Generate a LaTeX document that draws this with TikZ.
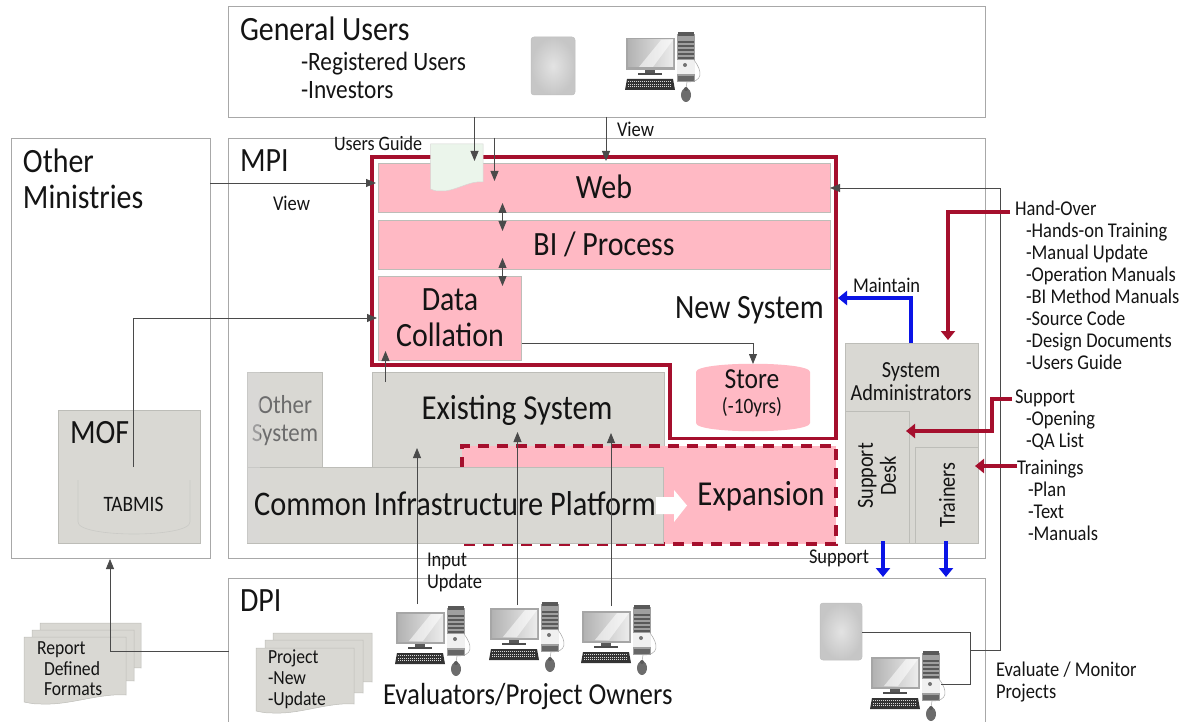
\documentclass[tikz,border=0pt]{standalone}
\usepackage{fontspec}
\setmainfont[FakeStretch=0.88]{Carlito}
\usetikzlibrary{arrows.meta,calc}
\definecolor{pinkf}{HTML}{FFB9C4}
\definecolor{grayf}{HTML}{D9D8D3}
\definecolor{grayb}{HTML}{BDBDB8}
\definecolor{frame}{HTML}{A8A8A8}
\definecolor{conn}{HTML}{4A4A4A}
\definecolor{dred}{HTML}{A50F2D}
\definecolor{bblue}{HTML}{0A14E6}
\definecolor{ink}{HTML}{141414}
\newcommand{\fsl}[2]{\fontsize{#1}{#2}\selectfont}
\newcommand{\bx}[6]{\node[#1,anchor=north west,minimum width=(#5-#3)*1pt,minimum height=(#6-#4)*1pt] (#2) at (#3,#4) {};}
\newcommand{\docpath}[4]{(#1,#2) -- (#3,#2) -- (#3,#4-8) .. controls ({#3-(#3-#1)*0.25},#4-10) and ({#3-(#3-#1)*0.55},#4+2) .. ({#1+(#3-#1)*0.2},#4+1) .. controls ({#1+(#3-#1)*0.1},#4+1) .. (#1,#4-1) -- cycle}
\tikzset{
  x=1pt,y=-1pt,
  every node/.style={inner sep=0pt,outer sep=0pt,text=ink},
  framebox/.style={draw=frame,line width=0.8pt,fill=white},
  sysbox/.style={draw=grayb,line width=0.6pt,fill=grayf},
  pinkbox/.style={draw=grayb,line width=0.6pt,fill=pinkf},
  lbl/.style={anchor=west},
  ctr/.style={anchor=center,align=center},
  list/.style={anchor=north west,align=left},
  big/.style={font=\fsl{34}{36}},
  mid/.style={font=\fsl{21}{22}},
  thinline/.style={draw=conn,line width=0.8pt},
  tri/.style={thinline,-{Triangle[length=10pt,width=8pt]}},
  dbl/.style={thinline,{Triangle[length=10pt,width=8pt]}-{Triangle[length=10pt,width=8pt]}},
  redbar/.style={draw=dred,line width=3.6pt},
  redarrow/.style={draw=dred,line width=3.2pt,-{Triangle[length=9pt,width=14pt]}},
  bluearrow/.style={draw=bblue,line width=3.2pt,-{Triangle[length=9pt,width=14pt]}},
  docf/.style={draw=grayb,line width=0.5pt,fill=grayf},
  tablet/.style={rounded corners=3pt,draw=black!25,line width=0.5pt,inner color=gray!22,outer color=gray!45,anchor=north west},
  pc/.pic={
    \fill[gray!70] (1,6) rectangle (50,38);
    \shade[left color=gray!60,right color=gray!15] (3,8) rectangle (48,35);
    \fill[white,opacity=.55] (14,35) -- (36,8) -- (48,8) -- (28,35) -- cycle;
    \fill[black!65] (20,38) rectangle (30,41);
    \fill[black!70] (13,41) rectangle (37,43);
    \fill[black!80] (2,47) -- (48,47) -- (50,58) -- (0,58) -- cycle;
    \foreach \k in {49.5,52,54.5} \draw[white!70!gray,line width=.7pt,dash pattern=on 1pt off 1pt] (3,\k) -- (47,\k);
    \fill[gray!75] (52,2) rectangle (70,50);
    \fill[black!65] (53,0) rectangle (69,4);
    \foreach \k in {9,13,17,21,25} \fill[black!65] (53,\k) rectangle (69,\k+2);
    \fill[white!88!gray] (52,28) rectangle (70,42);
    \fill[black!55] (60,33) circle (2pt);
    \fill[black!60] (53,44) rectangle (69,49);
    \draw[gray!70,line width=.5pt] (69,28) .. controls (78,40) and (78,50) .. (62,50) -- (61,56);
    \fill[gray!85!black] (61,63) ellipse (5pt and 7pt);
    \fill[black!65] (61,57) ellipse (2pt and 2pt);
  }
}
\begin{document}
\begin{tikzpicture}
\useasboundingbox (0,0) rectangle (1189,722);
% outer frames
\bx{framebox}{gu}{228.5}{6}{985}{117}
\bx{framebox}{mpi}{228.5}{138}{985}{558.5}
\bx{framebox}{om}{11.5}{138}{210}{558.5}
\draw[frame,line width=0.8pt] (228.5,722) -- (228.5,578) -- (985,578) -- (985,722);
\coordinate (dpiw) at (228.5,651);
% frame titles
\node[lbl,big] (tgu) at (240,29) {General Users};
\node[list,font=\fsl{26.5}{28}] (tgul) at (301,52) {-Registered Users\\-Investors};
\node[lbl,big] (tmpi) at (240,161) {MPI};
\node[list,big] (tom) at (23,149) {Other\\Ministries};
\node[lbl,big] (tdpi) at (240,601) {DPI};
% devices
\node[tablet,minimum width=44pt,minimum height=58pt] (tab1) at (531,37) {};
\pic at (625,32) {pc};
% other ministries content
\bx{sysbox}{mof}{58}{410}{200.5}{543}
\node[lbl,big] (tmof) at (70,433) {MOF};
\draw[grayb!80!white,line width=.6pt] (78,480) -- (78,522) .. controls (78,538) and (190,538) .. (190,522) -- (190,480);
\node[ctr,font=\fsl{22}{22}] (tabmis) at (133.5,504) {TABMIS};
\coordinate (tabtop) at (133.5,467);
% existing systems
\bx{sysbox}{other}{247}{372}{322.6}{468}
\bx{sysbox}{exist}{372}{372}{664}{468}
\node[ctr,text=gray!85!black,font=\fsl{26}{28}] (tother) at (285,421) {Other\\System};
% expansion
\node[draw=none,fill=pinkf,anchor=north west,minimum width=374pt,minimum height=98pt] (exp) at (462,446) {};
\draw[draw=dred,line width=3.2pt,dash pattern=on 11pt off 8pt] (exp.south west) -- (exp.north west) -- (exp.north east) -- (exp.south east) -- cycle;
\bx{sysbox}{common}{247}{467}{663}{543}
\fill[white!85!blue!15!grayf,opacity=.45] (247,372) rectangle (260,543);
\node[anchor=center,font=\fsl{34.5}{36}] (tcommon) at (455,504) {Common Infrastructure Platform};
\node[ctr,font=\fsl{35}{36}] (texpand) at (761,496) {Expansion};
\fill[white] (656,497) -- (674,497) -- (674,490) -- (687,505.5) -- (674,522) -- (674,514) -- (656,514) -- cycle;
\node[ctr,font=\fsl{35}{36}] (texist) at (517,410) {Existing System};
% new system outline
\draw[redbar,line join=miter] (372,157) -- (836,157) -- (836,438.5) -- (670,438.5) -- (670,365) -- (372,365) -- cycle;
\bx{pinkbox}{web}{378}{163}{830}{212}
\bx{pinkbox}{bi}{378}{220}{830}{269}
\bx{pinkbox}{dc}{378}{276}{521.5}{360}
\node[ctr,big] (tweb) at (604,187) {Web};
\node[ctr,big] (tbi) at (604,244) {BI / Process};
\node[ctr,big] (tdc) at (450,318) {Data\\Collation};
\node[lbl,big] (tnew) at (675,310) {New System};
% store
\path[fill=pinkf] (696,372) .. controls (696,361) and (810,361) .. (810,372) -- (810,423) .. controls (810,434) and (696,434) .. (696,423) -- cycle;
\coordinate (storetop) at (753,364);
\node[ctr,font=\fsl{29}{30}] (tstore) at (752,379) {Store};
\node[ctr,font=\fsl{22}{22}] (tyrs) at (752,407) {(-10yrs)};
% users guide document
\path[draw=grayb!60!white,line width=.5pt,fill=green!4!white!92!gray] \docpath{430.5}{144}{483}{190};
\node[lbl,font=\fsl{20.5}{22}] (tug) at (334,143) {Users Guide};
% admin boxes
\bx{sysbox}{admin}{845.5}{343}{978}{543}
\bx{sysbox}{desk}{845.5}{411}{909}{543}
\bx{sysbox}{train}{915}{447}{978}{543}
\node[ctr,font=\fsl{23}{23}] (tadmin) at (911,382) {System\\Administrators};
\node[ctr,rotate=90,font=\fsl{23}{23}] (tdesk) at (877,476) {Support\\Desk};
\node[ctr,rotate=90,font=\fsl{23}{23}] (ttrain) at (947,495) {Trainers};
% document stacks
\path[docf] \docpath{40}{623}{141}{676};
\path[docf] \docpath{32}{630}{134}{689};
\path[docf] \docpath{24}{637}{126}{703};
\node[list,font=\fsl{20}{20.5}] (trep) at (37,642) {Report\\\hspace*{7pt}Defined\\\hspace*{7pt}Formats};
\path[docf] \docpath{273}{633}{372}{690};
\path[docf] \docpath{265}{640}{363}{701};
\path[docf] \docpath{256}{648}{354}{712};
\node[list,font=\fsl{20}{21}] (tproj) at (268,650) {Project\\-New\\-Update};
% DPI computers
\pic at (395,606) {pc};
\pic at (489,602) {pc};
\pic at (581,605) {pc};
\pic at (870,651) {pc};
\node[tablet,minimum width=42pt,minimum height=57pt] (tab2) at (820,603) {};
\node[lbl,font=\fsl{30.5}{32}] (teval) at (383,697) {Evaluators/Project Owners};
% connector coordinates
\coordinate (a1) at (474.5,161);
\coordinate (a2) at (494.5,181);
\coordinate (a3) at (606,161);
\coordinate (eva) at (1000,188);
\coordinate (evb) at (1000,650.5);
\coordinate (evc) at (970,650.5);
\coordinate (evd) at (970,632);
\coordinate (eve) at (970,684);
\coordinate (evf) at (941,684);
% connectors
\draw[tri] (gu.south -| a1) -- (a1);
\draw[tri] (mpi.north -| a2) -- (a2);
\draw[tri] (gu.south -| a3) -- (a3);
\coordinate (w1) at (376,183);
\draw[tri] (om.east |- w1) -- (w1);
\draw[dbl] (502.5,203) coordinate (d1) -- (502.5,231) coordinate (d2);
\draw[dbl] (502.5,258) coordinate (d3) -- (502.5,286) coordinate (d4);
\coordinate (dcw) at (377,318);
\draw[tri] (tabtop) -- (tabtop |- dcw) -- (dcw);
\coordinate (up) at (385.5,351);
\draw[tri] (385.5,382) -- (up);
\coordinate (dce) at (521.5,343);
\draw[tri] (dce) -- (753,343) -- (storetop);
\draw[tri] (evb) -- (eva) -- (web.east |- eva);
\draw[thinline] (evb) -- (evc);
\draw[thinline] (tab2.east |- evd) -- (evd) -- (eve) -- (evf);
\draw[tri] (dpiw) -- (110,651) -- (110,559);
\draw[tri] (417,604) -- (417,448);
\draw[tri] (517.5,605) -- (517.5,432);
\draw[tri] (611,606) -- (611,433);
% coloured connectors
\draw[redarrow] (1010,212) -- (948,212) -- (948,340);
\draw[bluearrow] (911,343) -- (911,298) -- (838,298);
\draw[redarrow] (1012,399) -- (992,399) -- (992,431) -- (906,431);
\draw[redarrow] (1017,466) -- (975,466);
\draw[bluearrow] (883,541) -- (883,577);
\draw[bluearrow] (946,541) -- (946,577);
% small labels
\node[lbl,mid] (tv1) at (617,129) {View};
\node[lbl,mid] (tv2) at (273,203) {View};
\node[lbl,mid] (tm) at (853,285) {Maintain};
\node[lbl,mid] (ts) at (809,558) {Support};
\node[list,mid] (tin) at (427,553) {Input\\Update};
\node[list,mid] (th) at (1015,201) {Hand-Over\\\hspace*{11pt}-Hands-on Training\\\hspace*{11pt}-Manual Update\\\hspace*{11pt}-Operation Manuals\\\hspace*{11pt}-BI Method Manuals\\\hspace*{11pt}-Source Code\\\hspace*{11pt}-Design Documents\\\hspace*{11pt}-Users Guide};
\node[list,mid] (tsu) at (1015,390) {Support\\\hspace*{11pt}-Opening\\\hspace*{11pt}-QA List};
\node[list,mid] (ttr) at (1017,460) {Trainings\\\hspace*{11pt}-Plan\\\hspace*{11pt}-Text\\\hspace*{11pt}-Manuals};
\node[list,mid] (tev) at (996,662) {Evaluate / Monitor\\Projects};
\end{tikzpicture}
\end{document}
